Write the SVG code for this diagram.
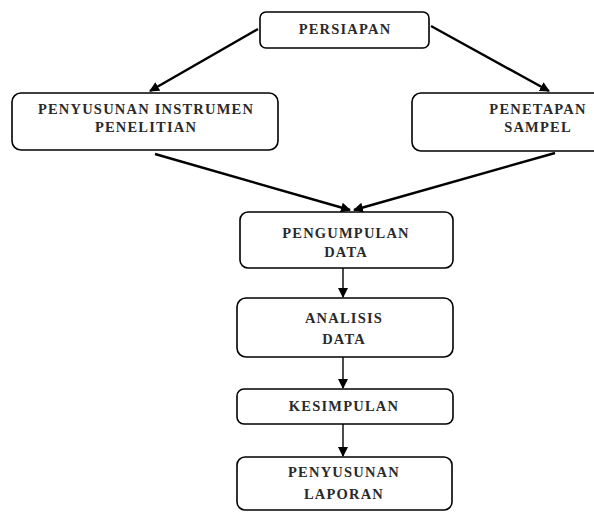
<svg xmlns="http://www.w3.org/2000/svg" width="594" height="513" viewBox="0 0 594 513">
<defs>
<marker id="ah" markerWidth="10" markerHeight="10" refX="9" refY="5" orient="auto" markerUnits="userSpaceOnUse">
<path d="M0,0 L10,5 L0,10 z" fill="#000"/>
</marker>
<style>
.box{fill:#fff;stroke:#000;stroke-width:1.6}
.t{font-family:"Liberation Serif",serif;font-size:14.5px;font-weight:bold;fill:#2a2a2a;text-anchor:middle;letter-spacing:1.2px}
.c{stroke:#000;stroke-width:2.4;fill:none}
.v{stroke:#000;stroke-width:1.4;fill:none}
</style>
</defs>
<rect width="594" height="513" fill="#fff"/>
<g id="persiapan">
<rect class="box" x="260" y="12" width="169" height="36" rx="6"/>
<text class="t" x="345" y="34">PERSIAPAN</text>
</g>
<g id="instrumen">
<rect class="box" x="12" y="93" width="266" height="57" rx="9"/>
<text class="t" x="146" y="114">PENYUSUNAN INSTRUMEN</text>
<text class="t" x="146" y="132">PENELITIAN</text>
</g>
<g id="sampel">
<rect class="box" x="412" y="93" width="250" height="58" rx="9"/>
<text class="t" x="538" y="114">PENETAPAN</text>
<text class="t" x="538" y="132">SAMPEL</text>
</g>
<g id="pengumpulan">
<rect class="box" x="240" y="212" width="213" height="56" rx="8"/>
<text class="t" x="346" y="238">PENGUMPULAN</text>
<text class="t" x="346" y="257">DATA</text>
</g>
<g id="analisis">
<rect class="box" x="237" y="298" width="216" height="59" rx="9"/>
<text class="t" x="344" y="323">ANALISIS</text>
<text class="t" x="344" y="344">DATA</text>
</g>
<g id="kesimpulan">
<rect class="box" x="237" y="389" width="216" height="35" rx="7"/>
<text class="t" x="344" y="411">KESIMPULAN</text>
</g>
<g id="laporan">
<rect class="box" x="237" y="457" width="215" height="53" rx="8"/>
<text class="t" x="344" y="477">PENYUSUNAN</text>
<text class="t" x="344" y="499">LAPORAN</text>
</g>
<g id="connectors">
<line class="c" x1="258" y1="29" x2="150" y2="91" marker-end="url(#ah)"/>
<line class="c" x1="431" y1="26" x2="549" y2="91" marker-end="url(#ah)"/>
<line class="c" x1="155" y1="154" x2="350" y2="210" marker-end="url(#ah)"/>
<line class="c" x1="555" y1="153" x2="354" y2="210" marker-end="url(#ah)"/>
<line class="v" x1="343" y1="268" x2="343" y2="297" marker-end="url(#ah)"/>
<line class="v" x1="343" y1="357" x2="343" y2="388" marker-end="url(#ah)"/>
<line class="v" x1="343" y1="424" x2="343" y2="456" marker-end="url(#ah)"/>
</g>
</svg>
